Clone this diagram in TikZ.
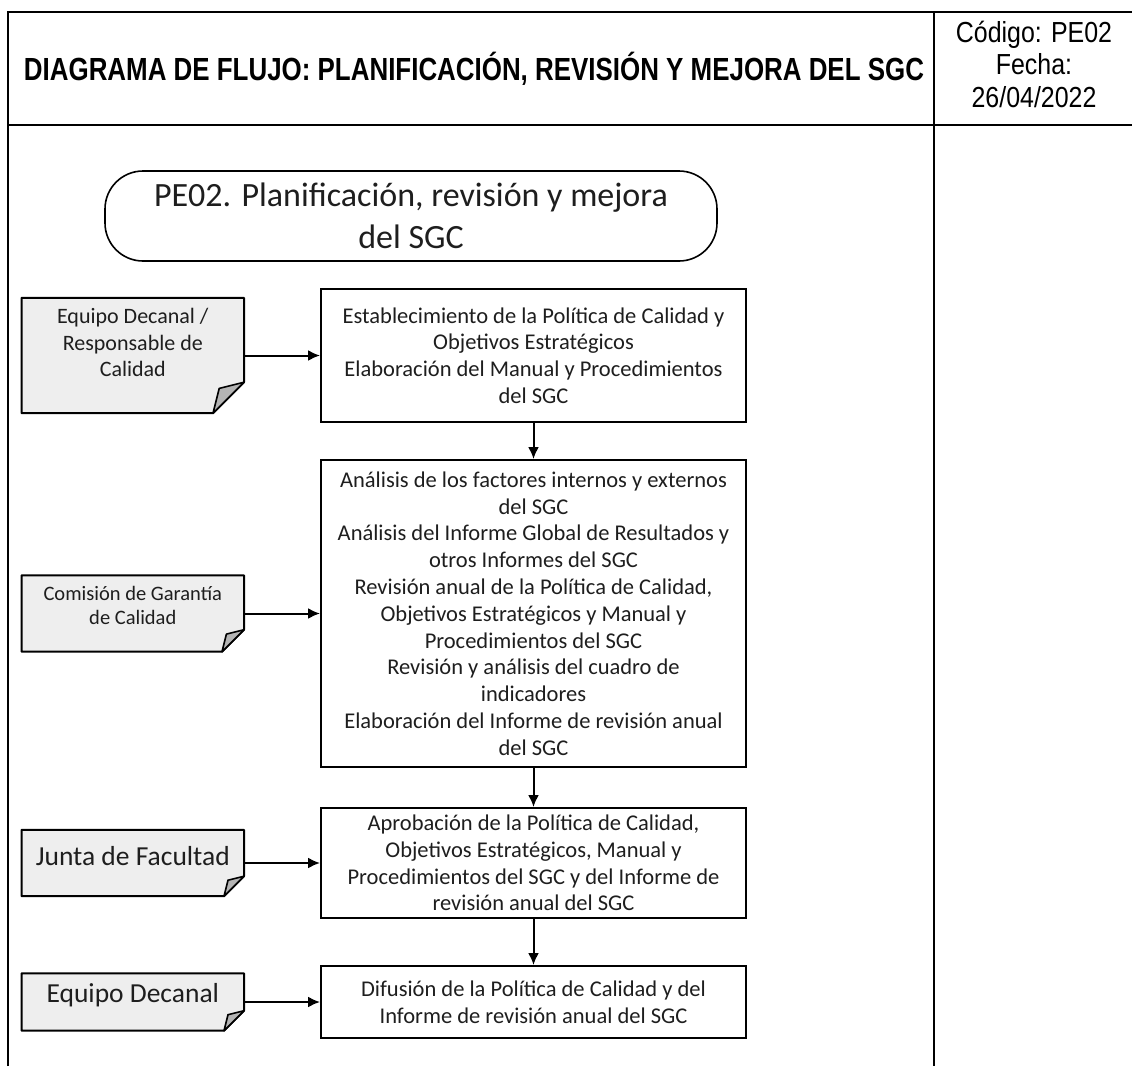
\documentclass[tikz,border=0pt]{standalone}
\usepackage{fontspec}
\setmainfont{Carlito}
\newfontfamily\headfont[FakeStretch=0.81]{Liberation Sans}
\newfontfamily\metafont[FakeStretch=0.86]{Liberation Sans}
\usepackage{tikz}
\usetikzlibrary{positioning,arrows.meta}
\definecolor{inkGray}{HTML}{1E1E1E}
\definecolor{noteGray}{HTML}{EEEEEE}
\definecolor{foldGray}{HTML}{B4B4B4}
\newcommand{\dognote}[2]{%
  \filldraw[noteFill] (#1.north west) -- (#1.north east) -- ([yshift=#2pt]#1.south east)
        -- ([xshift=-#2pt]#1.south east) -- (#1.south west) -- cycle;
  \filldraw[foldFill] ([yshift=#2pt]#1.south east) -- ([xshift=-0.8*#2pt,yshift=0.8*#2pt]#1.south east)
        -- ([xshift=-#2pt]#1.south east) -- cycle;
}

\begin{document}
\begin{tikzpicture}[x=1pt, y=-1pt, >={Latex[length=12pt,width=11pt]}, node distance=36pt]
        \tikzset{
           frame/.style={
                        draw=black,
                        line width=2pt
                       },
           headTitle/.style={
                        text=black,
                        font=\headfont\bfseries\fontsize{32}{36}\selectfont
                       },
           headMeta/.style={
                        text=black,
                        align=center,
                        font=\metafont\fontsize{29}{32.5}\selectfont
                       },
           terminal/.style={
                        rectangle,
                        rounded corners=38pt,
                        draw=black,
                        line width=1.6pt,
                        fill=white,
                        text=inkGray,
                        align=center,
                        minimum width=612pt,
                        minimum height=90pt,
                        font=\fontsize{34}{41.5}\selectfont
                       },
           process/.style={
                        rectangle,
                        draw=black,
                        line width=2pt,
                        fill=white,
                        text=inkGray,
                        align=center,
                        inner sep=0pt,
                        minimum width=425pt,
                        font=\fontsize{22.5}{26.8}\selectfont
                       },
           actor/.style={
                        rectangle,
                        draw=none,
                        inner sep=0pt,
                        minimum width=222pt
                       },
           actorText/.style={
                        text=inkGray,
                        align=center
                       },
           noteFill/.style={
                        draw=black,
                        line width=2pt,
                        line join=round,
                        fill=noteGray
                       },
           foldFill/.style={
                        draw=black,
                        line width=1.6pt,
                        line join=round,
                        fill=foldGray
                       },
           flow/.style={
                        ->,
                        draw=black,
                        line width=2pt
                       },
                 };
    \useasboundingbox (0,0) rectangle (1132,1066);
    %--------------------
        \draw[frame] (8,1066) -- (8,12) -- (1132,12);
        \draw[frame] (8,125) -- (1132,125);
        \draw[frame] (934,12) -- (934,1066);

        \node[headTitle]  (titulo)   at (474,69)   {DIAGRAMA DE FLUJO: PLANIFICACIÓN, REVISIÓN Y MEJORA DEL SGC};
        \node[headMeta]   (codigo)   at (1034,64)  {Código: PE02\\Fecha:\\26/04/2022};
    %--------------------
        \node[terminal]   (inicio)   at (411,216)  {PE02. Planificación, revisión y mejora\\del SGC};

        \node[process, minimum height=133pt] (bPolitica) at (533.5,355.5)
              {Establecimiento de la Política de Calidad y\\Objetivos Estratégicos\\Elaboración del Manual y Procedimientos\\del SGC};
        \node[process, minimum height=307pt] (bAnalisis)   [below=36pt of bPolitica]
              {Análisis de los factores internos y externos\\del SGC\\Análisis del Informe Global de Resultados y\\otros Informes del SGC\\Revisión anual de la Política de Calidad,\\Objetivos Estratégicos y Manual y\\Procedimientos del SGC\\Revisión y análisis del cuadro de\\indicadores\\Elaboración del Informe de revisión anual\\del SGC};
        \node[process, minimum height=110pt] (bAprobacion) [below=39pt of bAnalisis]
              {Aprobación de la Política de Calidad,\\Objetivos Estratégicos, Manual y\\Procedimientos del SGC y del Informe de\\revisión anual del SGC};
        \node[process, minimum height=72pt]  (bDifusion)   [below=46pt of bAprobacion]
              {Difusión de la Política de Calidad y del\\Informe de revisión anual del SGC};
    %--------------------
        \node[actor, minimum height=115pt] (aEquipo)   [left=76pt of bPolitica]   {};
        \dognote{aEquipo}{31}
        \node[actorText, font=\fontsize{22}{26.7}\selectfont] (tEquipo)   at ([yshift=13pt]aEquipo.center)
              {Equipo Decanal /\\Responsable de\\Calidad};

        \node[actor, minimum height=76pt]  (aComision) [left=76pt of bAnalisis]   {};
        \dognote{aComision}{22}
        \node[actorText, font=\fontsize{20.5}{23.5}\selectfont] (tComision) at ([yshift=8pt]aComision.center)
              {Comisión de Garantía\\de Calidad};

        \node[actor, minimum height=66pt]  (aJunta)    [left=76pt of bAprobacion] {};
        \dognote{aJunta}{20}
        \node[actorText, font=\fontsize{27.5}{32}\selectfont]   (tJunta)    at ([yshift=7pt]aJunta.center)
              {Junta de Facultad};

        \node[actor, minimum height=57pt]  (aDecanal)  [left=76pt of bDifusion]   {};
        \dognote{aDecanal}{20}
        \node[actorText, font=\fontsize{27.5}{32}\selectfont]   (tDecanal)  at ([yshift=7pt]aDecanal.center)
              {Equipo Decanal};
    %--------------------
        \path[flow] (aEquipo)     edge (bPolitica)
                    (aComision)   edge (bAnalisis)
                    (aJunta)      edge (bAprobacion)
                    (aDecanal)    edge (bDifusion)

                    (bPolitica)   edge (bAnalisis)
                    (bAnalisis)   edge (bAprobacion)
                    (bAprobacion) edge (bDifusion);
    \end{tikzpicture}
\end{document}
